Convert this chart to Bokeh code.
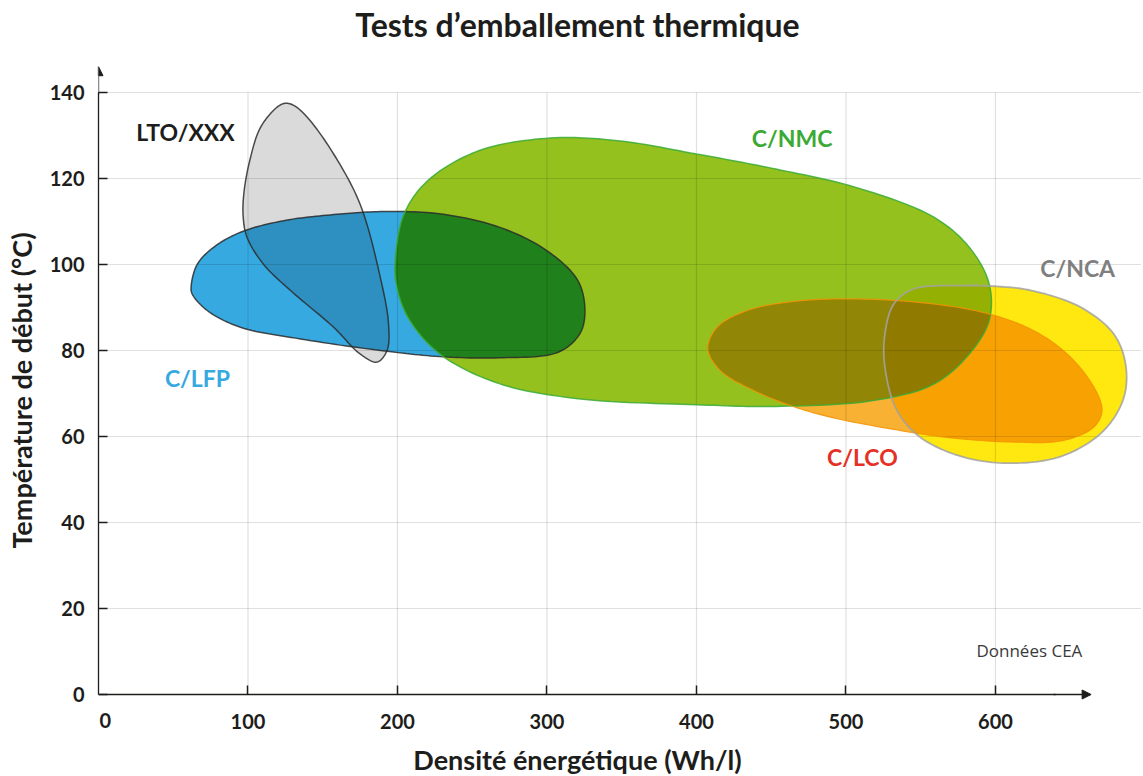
import numpy as np
from itertools import combinations
from bokeh.plotting import figure
from bokeh.models import Range1d, Label, Arrow, NormalHead, FixedTicker, ColumnDataSource
from bokeh.embed import file_html
from bokeh.resources import INLINE

# ---------------- data ----------------
x_ticks = [0, 100, 200, 300, 400, 500, 600]
y_ticks = [0, 20, 40, 60, 80, 100, 120, 140]

names = ["LTO/XXX", "C/LFP", "C/NMC", "C/LCO", "C/NCA"]

lto_x = [125, 130.6, 139.5, 157.3, 175, 188.5, 194, 193, 186.3, 175, 157.3, 128.3, 110.5, 99.4, 96.8, 97.2, 101.2, 108.4, 119.5]
lto_y = [137.5, 137, 134.3, 125.7, 114, 97, 86.2, 80, 77.3, 79.2, 85.4, 94, 100, 106.3, 111, 116.4, 124.2, 131.9, 136.6]

lfp_x = [62, 66, 77, 95, 124, 157.3, 188.6, 228, 268, 299.6, 320.6, 325.4, 322, 307.5, 268, 228, 188.6, 135, 95, 72.7, 62.6]
lfp_y = [95, 100, 104, 107.5, 110.2, 111.6, 112.3, 111.8, 108.7, 103.3, 96.3, 89.3, 83.9, 79.6, 78.3, 78.6, 80, 82.7, 85.4, 89.3, 93.2]

nmc_x = [198.7, 204.5, 220.3, 254.7, 302.3, 347.2, 400, 453, 506, 558.8, 582.5, 595.8, 595.8, 582.5, 558.8, 519, 453, 400, 320.8, 268, 228.3, 207, 199.2]
nmc_y = [101.7, 111.8, 119.5, 126.5, 129.4, 128.8, 125.7, 122.2, 118, 111, 104, 95.5, 87, 79.2, 72.2, 68.4, 67, 67.4, 68.8, 72.3, 79.2, 87.7, 95.5]

lco_x = [407.6, 413.8, 433.9, 467.3, 500.8, 545.4, 590, 623.4, 647.9, 665.8, 671.3, 665.8, 645.7, 612.2, 567.7, 523, 489.6, 462.9, 438.3, 416]
lco_y = [80.4, 85.4, 89.3, 91.5, 92, 91.3, 89, 85, 79.2, 71.5, 66, 62.2, 59.1, 58.7, 59.8, 62.2, 64.5, 67.2, 70.7, 75.3]

nca_x = [532, 545.3, 578.8, 601, 623.4, 656.8, 679, 687, 685.9, 672.5, 645.7, 612.2, 578.8, 549.8, 534.2, 526.4, 525.8]
nca_y = [90.8, 94.3, 95.1, 94.9, 94, 90.1, 83.9, 76.9, 69.1, 61.4, 55.6, 53.8, 55.2, 59.8, 66, 75.3, 83.1]

# ---------------- styles ----------------
fills = [(218, 218, 218), (54, 169, 225), (149, 193, 31), (248, 177, 51), (254, 232, 16)]
lines = ["#2b2b2b", "#2b2b2b", "#3aaa35", "#f39200", "#a2a2a2"]
line_w = [1.5, 1.5, 1.5, 1.2, 1.8]
label_colors = ["#1d1d1b", "#36a9e1", "#3aaa35", "#e53027", "#7f7f7f"]
SX, SY = 1.495, 4.3  # px per data unit (for smoothing in visual space)


def smooth_closed(xs, ys, n=14):
    P = np.column_stack([np.asarray(xs) * SX, np.asarray(ys) * SY])
    m = len(P)
    out = []
    for i in range(m):
        p0, p1, p2, p3 = P[(i - 1) % m], P[i], P[(i + 1) % m], P[(i + 2) % m]
        t0 = 0.0
        t1 = t0 + np.linalg.norm(p1 - p0) ** 0.5
        t2 = t1 + np.linalg.norm(p2 - p1) ** 0.5
        t3 = t2 + np.linalg.norm(p3 - p2) ** 0.5
        t = np.linspace(t1, t2, n, endpoint=False)[:, None]
        a1 = (t1 - t) / (t1 - t0) * p0 + (t - t0) / (t1 - t0) * p1
        a2 = (t2 - t) / (t2 - t1) * p1 + (t - t1) / (t2 - t1) * p2
        a3 = (t3 - t) / (t3 - t2) * p2 + (t - t2) / (t3 - t2) * p3
        b1 = (t2 - t) / (t2 - t0) * a1 + (t - t0) / (t2 - t0) * a2
        b2 = (t3 - t) / (t3 - t1) * a2 + (t - t1) / (t3 - t1) * a3
        c = (t2 - t) / (t2 - t1) * b1 + (t - t1) / (t2 - t1) * b2
        out.append(c)
    Q = np.vstack(out)
    return Q[:, 0] / SX, Q[:, 1] / SY


def hull(pts):
    pts = sorted(set(map(tuple, pts)))
    def cross(o, a, b):
        return (a[0] - o[0]) * (b[1] - o[1]) - (a[1] - o[1]) * (b[0] - o[0])
    lower, upper = [], []
    for p in pts:
        while len(lower) >= 2 and cross(lower[-2], lower[-1], p) <= 0:
            lower.pop()
        lower.append(p)
    for p in reversed(pts):
        while len(upper) >= 2 and cross(upper[-2], upper[-1], p) <= 0:
            upper.pop()
        upper.append(p)
    return lower[:-1] + upper[:-1]  # CCW


def clip(subject, clipper):
    out = list(subject)
    n = len(clipper)
    for i in range(n):
        if not out:
            break
        a, b = clipper[i], clipper[(i + 1) % n]
        def inside(p):
            return (b[0] - a[0]) * (p[1] - a[1]) - (b[1] - a[1]) * (p[0] - a[0]) >= 0
        def inter(p, q):
            dx1, dy1 = q[0] - p[0], q[1] - p[1]
            dx2, dy2 = b[0] - a[0], b[1] - a[1]
            den = dx1 * dy2 - dy1 * dx2
            t = ((a[0] - p[0]) * dy2 - (a[1] - p[1]) * dx2) / den
            return (p[0] + t * dx1, p[1] + t * dy1)
        inp, out = out, []
        for j in range(len(inp)):
            cur, prev = inp[j], inp[j - 1]
            if inside(cur):
                if not inside(prev):
                    out.append(inter(prev, cur))
                out.append(cur)
            elif inside(prev):
                out.append(inter(prev, cur))
    return out


raw = [(lto_x, lto_y), (lfp_x, lfp_y), (nmc_x, nmc_y), (lco_x, lco_y), (nca_x, nca_y)]
shapes = [smooth_closed(x, y) for x, y in raw]
vis = [list(zip(sx * SX, sy * SY)) for sx, sy in shapes]
hulls = [hull(v) for v in vis]


def to_hex(c):
    return "#%02x%02x%02x" % tuple(int(round(v)) for v in c)


# base regions + overlaps coloured as "multiply" of the overlapping fills
xs, ys, cols = [], [], []
for i in range(len(shapes)):
    xs.append(list(shapes[i][0]))
    ys.append(list(shapes[i][1]))
    cols.append(to_hex(fills[i]))
for k in range(2, len(shapes) + 1):
    for combo in combinations(range(len(shapes)), k):
        poly = vis[combo[0]]
        for j in combo[1:]:
            poly = clip(poly, hulls[j])
            if len(poly) < 3:
                break
        if len(poly) < 3:
            continue
        c = np.array([255.0, 255.0, 255.0])
        for j in combo:
            c = c * np.array(fills[j]) / 255.0
        xs.append([q[0] / SX for q in poly])
        ys.append([q[1] / SY for q in poly])
        cols.append(to_hex(c))

# ---------------- figure ----------------
X_END = 697.7
Y_START = -80 / 4.3
Y_END = 688 / 4.3
p = figure(width=1141, height=774, x_range=Range1d(0, X_END), y_range=Range1d(Y_START, Y_END),
           x_axis_location="above",
           output_backend="svg", toolbar_location=None, title=None,
           min_border_left=98, min_border_right=0, min_border_top=6, min_border_bottom=0)
p.outline_line_color = None
p.grid.visible = False
p.background_fill_color = "white"

p.patches(xs="xs", ys="ys", fill_color="cols", line_color=None,
          source=ColumnDataSource(dict(xs=xs, ys=ys, cols=cols)))

# grid lines (drawn over the shapes, semi-transparent)
gx = [t for t in x_ticks if t > 0]
gy = [t for t in y_ticks if t > 0]
p.segment(x0=gx, y0=[0] * len(gx), x1=gx, y1=[max(y_ticks)] * len(gx),
          line_color="black", line_alpha=0.12, line_width=1.2)
p.segment(x0=[0] * len(gy), y0=gy, x1=[X_END] * len(gy), y1=gy,
          line_color="black", line_alpha=0.12, line_width=1.2)

# outlines
for i, (sx, sy) in enumerate(shapes):
    p.patch(list(sx) + [sx[0]], list(sy) + [sy[0]], fill_color=None,
            line_color=lines[i], line_width=line_w[i], line_alpha=0.85)

# axes
AX_COL = "#1d1d1b"
TICK_FONT_SIZE = "20px"
for ax in (p.xaxis, p.yaxis):
    ax.axis_line_color = AX_COL
    ax.axis_line_width = 1.3
    ax.major_tick_line_color = AX_COL
    ax.major_tick_line_width = 1.5
    ax.minor_tick_line_color = None
    ax.major_label_text_font = "Lato"
    ax.major_label_text_font_style = "bold"
    ax.major_label_text_font_size = TICK_FONT_SIZE
    ax.major_label_text_color = AX_COL
    ax.axis_label_text_font = "Lato"
    ax.axis_label_text_font_style = "bold"
    ax.axis_label_text_color = AX_COL

# x axis sits at y = 0 inside the frame, ticks pointing up, labels below the line
p.xaxis.ticker = FixedTicker(ticks=x_ticks[1:])
p.xaxis.fixed_location = 0
p.xaxis.bounds = (0, 640)
p.xaxis.major_tick_in = 0
p.xaxis.major_tick_out = 9
p.xaxis.major_label_standoff = -43
# the origin label of the x axis (kept just inside the frame)
p.add_layout(Label(x=x_ticks[0], y=0, x_offset=1, y_offset=-26, text=str(x_ticks[0]),
                   text_align="left", text_baseline="alphabetic",
                   text_font="Lato", text_font_style="bold", text_font_size=TICK_FONT_SIZE,
                   text_color=AX_COL))

p.yaxis.ticker = FixedTicker(ticks=y_ticks)
p.yaxis.bounds = (0, 140)
p.yaxis.major_tick_in = 9
p.yaxis.major_tick_out = 0
p.yaxis.major_label_standoff = 14
p.yaxis.axis_label = "Température de début (°C)"
p.yaxis.axis_label_text_font_size = "27px"
p.yaxis.axis_label_standoff = 9

# axis extensions with arrow heads
p.add_layout(Arrow(end=NormalHead(size=9, fill_color=AX_COL, line_color=AX_COL),
                   x_start=639, y_start=0, x_end=664, y_end=0,
                   line_color=AX_COL, line_width=1.3))
p.add_layout(Arrow(end=NormalHead(size=9, fill_color=AX_COL, line_color=AX_COL),
                   x_start=0, y_start=139.5, x_end=0, y_end=146.0,
                   line_color=AX_COL, line_width=1.3))

# series labels
label_pos = [(58.2, 130.7), (66.2, 73.7), (464, 129.5), (511, 55.3), (655, 99.3)]
for i, (lx, ly) in enumerate(label_pos):
    p.add_layout(Label(x=lx, y=ly, text=names[i], text_align="center", text_baseline="middle",
                       text_font="Lato", text_font_style="bold", text_font_size="23px",
                       text_color=label_colors[i]))

p.add_layout(Label(x=622.7, y=10.2, text="Données CEA", text_align="center", text_baseline="middle",
                   text_font="Open Sans", text_font_size="17px", text_color="#3a3a3a"))

# chart title and x-axis title
p.add_layout(Label(x=320.4, y=155.7, text="Tests d\u2019emballement thermique", text_align="center",
                   text_baseline="middle", text_font="Lato", text_font_style="bold",
                   text_font_size="32px", text_color=AX_COL))
p.add_layout(Label(x=320.4, y=-15.0, text="Densité énergétique (Wh/l)", text_align="center",
                   text_baseline="middle", text_font="Lato", text_font_style="bold",
                   text_font_size="27px", text_color=AX_COL))

open("out.html", "w").write(file_html(p, INLINE))
